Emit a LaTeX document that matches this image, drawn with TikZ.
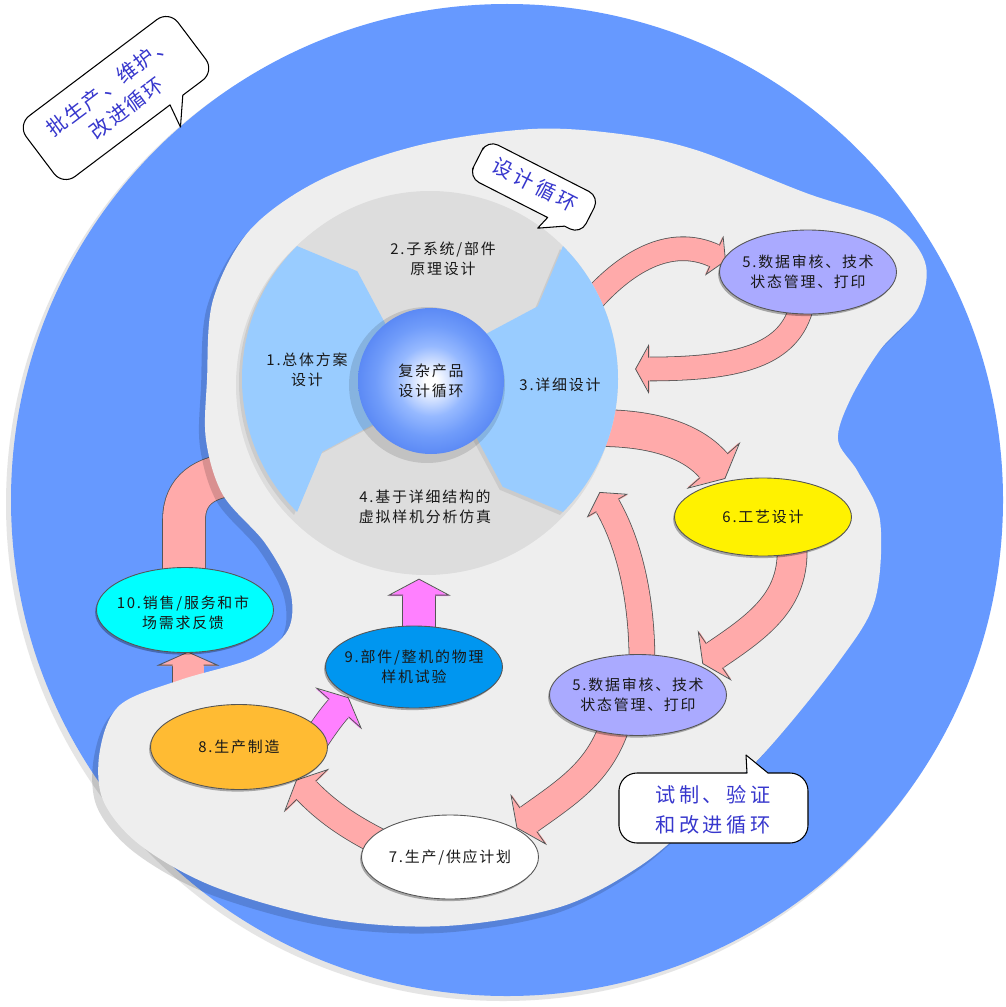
\documentclass[tikz,border=0pt]{standalone}
\usepackage{fontspec}
\usetikzlibrary{shapes.geometric,decorations.markings,shadows}
\newfontfamily\lblfont{Noto Sans CJK SC}[LetterSpace=12]
\newfontfamily\callfontA{Noto Sans CJK SC}[LetterSpace=8]
\newfontfamily\callfontB{Noto Sans CJK SC}[LetterSpace=18]
\definecolor{bigblue}{RGB}{102,153,255}
\definecolor{blobgray}{RGB}{238,238,238}
\definecolor{seggray}{RGB}{221,221,221}
\definecolor{segblue}{RGB}{153,204,255}
\definecolor{apink}{RGB}{255,170,170}
\definecolor{amag}{RGB}{255,128,255}
\definecolor{edgegray}{RGB}{85,85,85}
\definecolor{lav}{RGB}{170,170,255}
\definecolor{yel}{RGB}{255,242,0}
\definecolor{orng}{RGB}{255,187,51}
\definecolor{skyb}{RGB}{0,150,240}
\definecolor{cyn}{RGB}{0,255,255}
\definecolor{calltext}{RGB}{55,55,205}
\definecolor{ballin}{RGB}{215,228,255}
\definecolor{ballmid}{RGB}{150,185,255}
\definecolor{ballout}{RGB}{112,156,250}
\definecolor{ballrim}{RGB}{92,138,245}
\pgfdeclareradialshading{ballshade}{\pgfpoint{0bp}{0bp}}{color(0bp)=(white); color(2bp)=(white); color(6bp)=(ballin); color(12bp)=(ballmid); color(19bp)=(ballout); color(25bp)=(ballrim); color(50bp)=(ballrim)}
% #1 colour, #2 body width, #3 head half width, #4 head length, #5 path
\newcommand\bigarrow[5]{%
  \draw[line width=#2*0.02cm+0.9pt, draw=edgegray] #5;
  \draw[line width=#2*0.02cm, draw=#1] #5;
  \path[decorate, decoration={markings, mark=at position 0.997 with {%
      \fill[#1] (-1,-#3) -- (#4,0) -- (-1,#3) -- cycle;
      \draw[edgegray, line width=0.45pt, line join=miter] (0,#2/2) -- (0,#3) -- (#4,0) -- (0,-#3) -- (0,-#2/2);}}] #5;
}
\newcommand\blobshape[1]{\fill[#1] plot[smooth cycle, tension=0.55] coordinates {
 (532,129) (620,134) (696,150) (806,193) (890,222) (925,262) (918,308) (880,350) (850,400) (838,440)
 (858,472) (880,520) (875,600) (840,660) (767,750) (700,815) (640,866) (560,907) (445,926) (330,919)
 (215,887) (140,845) (103,800) (100,750) (120,705) (180,680) (253,658) (288,630) (290,590) (265,543)
 (223,495) (206,440) (207,380) (213,300) (250,230) (320,180) (420,145)};}
\newcommand\segleft[1]{\fill[#1] (-131:60) -- (-124:130) -- (-135:188) arc[start angle=-135, end angle=-225, radius=188] -- (146:130) -- (139:60) -- (180:30) -- cycle;}
\newcommand\segright[1]{\fill[#1] (-41:60) -- (-34:130) -- (-45:188) arc[start angle=-45, end angle=45, radius=188] -- (56:130) -- (49:60) -- (0:30) -- cycle;}
\begin{document}
\begin{tikzpicture}[x=0.02cm,y=-0.02cm,
  ell/.style={ellipse, draw=edgegray, line width=0.5pt, inner sep=0pt, minimum width=3.54cm, minimum height=1.66cm,
    drop shadow={shadow xshift=-0.8pt, shadow yshift=-1.2pt, opacity=0.3, fill=black}},
  lbl/.style={font=\lblfont\fontsize{8.5}{11.3}\selectfont, align=center, inner sep=0pt, text=black!90},
  calltxt/.style={text=calltext, align=center, inner sep=0pt},
  callbox/.style={fill=white, draw=black, line width=0.6pt, line join=round}]
\useasboundingbox (0,0) rectangle (1006,1007);
\fill[white] (0,0) rectangle (1006,1007);
% big circle
\fill[black!10] (503,504) circle[radius=497];
\fill[bigblue] (507,500) circle[radius=496];
% arrows lying under the blob
\coordinate (a11s) at (184,595); \coordinate (a11m) at (184,520); \coordinate (a11e) at (238,474);
\draw[line width=42*0.02cm+0.9pt, edgegray] (a11s) -- (a11m) .. controls (184,490) and (205,476) .. (a11e);
\draw[line width=42*0.02cm, apink] (a11s) -- (a11m) .. controls (184,490) and (205,476) .. (a11e);
\coordinate (a10s) at (188,705); \coordinate (a10e) at (188,665);
\bigarrow{apink}{31}{29.5}{13}{(a10s) -- (a10e)}
% blob
\blobshape{black, opacity=0.15, shift={(-6,7)}}
\blobshape{blobgray}
% arrows on the blob
\coordinate (a1s) at (588,305); \coordinate (a1e) at (715,256);
\bigarrow{apink}{23}{20.5}{12}{(a1s) .. controls (625,262) and (670,235) .. (a1e)}
\coordinate (a2s) at (802,305); \coordinate (a2e) at (648,369);
\bigarrow{apink}{23}{23.5}{13}{(a2s) .. controls (790,355) and (740,369) .. (a2e)}
\coordinate (a3s) at (598,428); \coordinate (a3e) at (714,466);
\bigarrow{apink}{36}{34}{17}{(a3s) .. controls (660,428) and (695,444) .. (a3e)}
\coordinate (a4s) at (792,545); \coordinate (a4e) at (714,656);
\bigarrow{apink}{29}{28.7}{14}{(a4s) .. controls (795,600) and (760,625) .. (a4e)}
\coordinate (a5s) at (642,662); \coordinate (a5e) at (607,505);
\bigarrow{apink}{25}{22.5}{15}{(a5s) .. controls (642,600) and (630,545) .. (a5e)}
\coordinate (a6s) at (618,715); \coordinate (a6e) at (528,820);
\bigarrow{apink}{29}{29.7}{14}{(a6s) .. controls (603,770) and (570,790) .. (a6e)}
\coordinate (a7s) at (385,845); \coordinate (a7e) at (306,790);
\bigarrow{apink}{26}{29.7}{14}{(a7s) .. controls (355,830) and (330,815) .. (a7e)}
\coordinate (a8s) at (312,745); \coordinate (a8e) at (339,708);
\bigarrow{amag}{26}{29.7}{14}{(a8s) .. controls (322,730) and (330,718) .. (a8e)}
\coordinate (a9s) at (419,640); \coordinate (a9e) at (419,595);
\bigarrow{amag}{32}{30}{16}{(a9s) -- (a9e)}
% ring
\begin{scope}[shift={(430,379)}]
  \fill[black, opacity=0.07] (-4,6) circle[radius=190];
  \fill[seggray] (0,0) circle[radius=188];
  \begin{scope}[shift={(-3,3)}]
    \segleft{black, opacity=0.08}
    \segright{black, opacity=0.08}
  \end{scope}
  \segleft{segblue}
  \segright{segblue}
\end{scope}
\fill[black, opacity=0.12] (427,385) circle[radius=78];
\shade[shading=ballshade] (431,381) circle[radius=73];
\node[lbl] (t0) at (431,381) {复杂产品\\设计循环};
\node[lbl] (t1) at (307,370) {1.总体方案\\设计};
\node[lbl] (t2) at (443,259) {2.子系统/部件\\原理设计};
\node[lbl] (t3) at (560,385) {3.详细设计};
\node[lbl] (t4) at (425,507) {4.基于详细结构的\\虚拟样机分析仿真};
% ellipse nodes
\node[ell, fill=lav, minimum height=1.68cm] (n5a) at (808,272) {};
\node[lbl] (n5at) at (n5a) {5.数据审核、技术\\状态管理、打印};
\node[ell, fill=yel, minimum height=1.56cm] (n6) at (763,517) {};
\node[lbl] (n6t) at (n6) {6.工艺设计};
\node[ell, fill=lav, minimum height=1.62cm] (n5b) at (638,695) {};
\node[lbl] (n5bt) at (n5b) {5.数据审核、技术\\状态管理、打印};
\node[ell, fill=white, minimum height=1.68cm] (n7) at (450,857) {};
\node[lbl] (n7t) at (n7) {7.生产/供应计划};
\node[ell, fill=orng, minimum height=1.7cm] (n8) at (239,747) {};
\node[lbl] (n8t) at (n8) {8.生产制造};
\node[ell, fill=skyb, minimum height=1.64cm] (n9) at (414,667) {};
\node[lbl] (n9t) at (n9) {9.部件/整机的物理\\样机试验};
\node[ell, fill=cyn, minimum height=1.7cm] (n10) at (185,610) {};
\node[lbl] (n10t) at (183,613) {10.销售/服务和市\\场需求反馈};
% callouts
\begin{scope}[shift={(116,98)}, rotate=37]
  \draw[callbox] (-95,0) [rounded corners=0.3cm] -- (-95,-38) -- (95,-38) -- (95,38) [sharp corners] -- (55,38) -- (34,62) -- (39,38) [rounded corners=0.3cm] -- (-95,38) -- cycle;
\end{scope}
\node[calltxt, rotate=37, font=\callfontA\fontsize{11.5}{16}\selectfont] (tA) at (118,97) {批生产、维护、\\改进循环};
\begin{scope}[shift={(534,187)}, rotate=-27]
  \draw[callbox] (-63,0) [rounded corners=0.24cm] -- (-63,-21) -- (63,-21) -- (63,21) [sharp corners] -- (45,21) -- (22,35) -- (26,21) [rounded corners=0.24cm] -- (-63,21) -- cycle;
\end{scope}
\node[calltxt, rotate=-27, font=\callfontB\fontsize{11.5}{16}\selectfont] (tB) at (535,185) {设计循环};
\draw[callbox] (619,808) [rounded corners=0.36cm] -- (619,773) [sharp corners] -- (747,773) -- (746,755) -- (768,773) [rounded corners=0.36cm] -- (808,773) -- (808,843) -- (619,843) -- cycle;
\node[calltxt, font=\callfontB\fontsize{11.5}{17}\selectfont] (tC) at (713,810) {试制、验证\\和改进循环};
\end{tikzpicture}
\end{document}
